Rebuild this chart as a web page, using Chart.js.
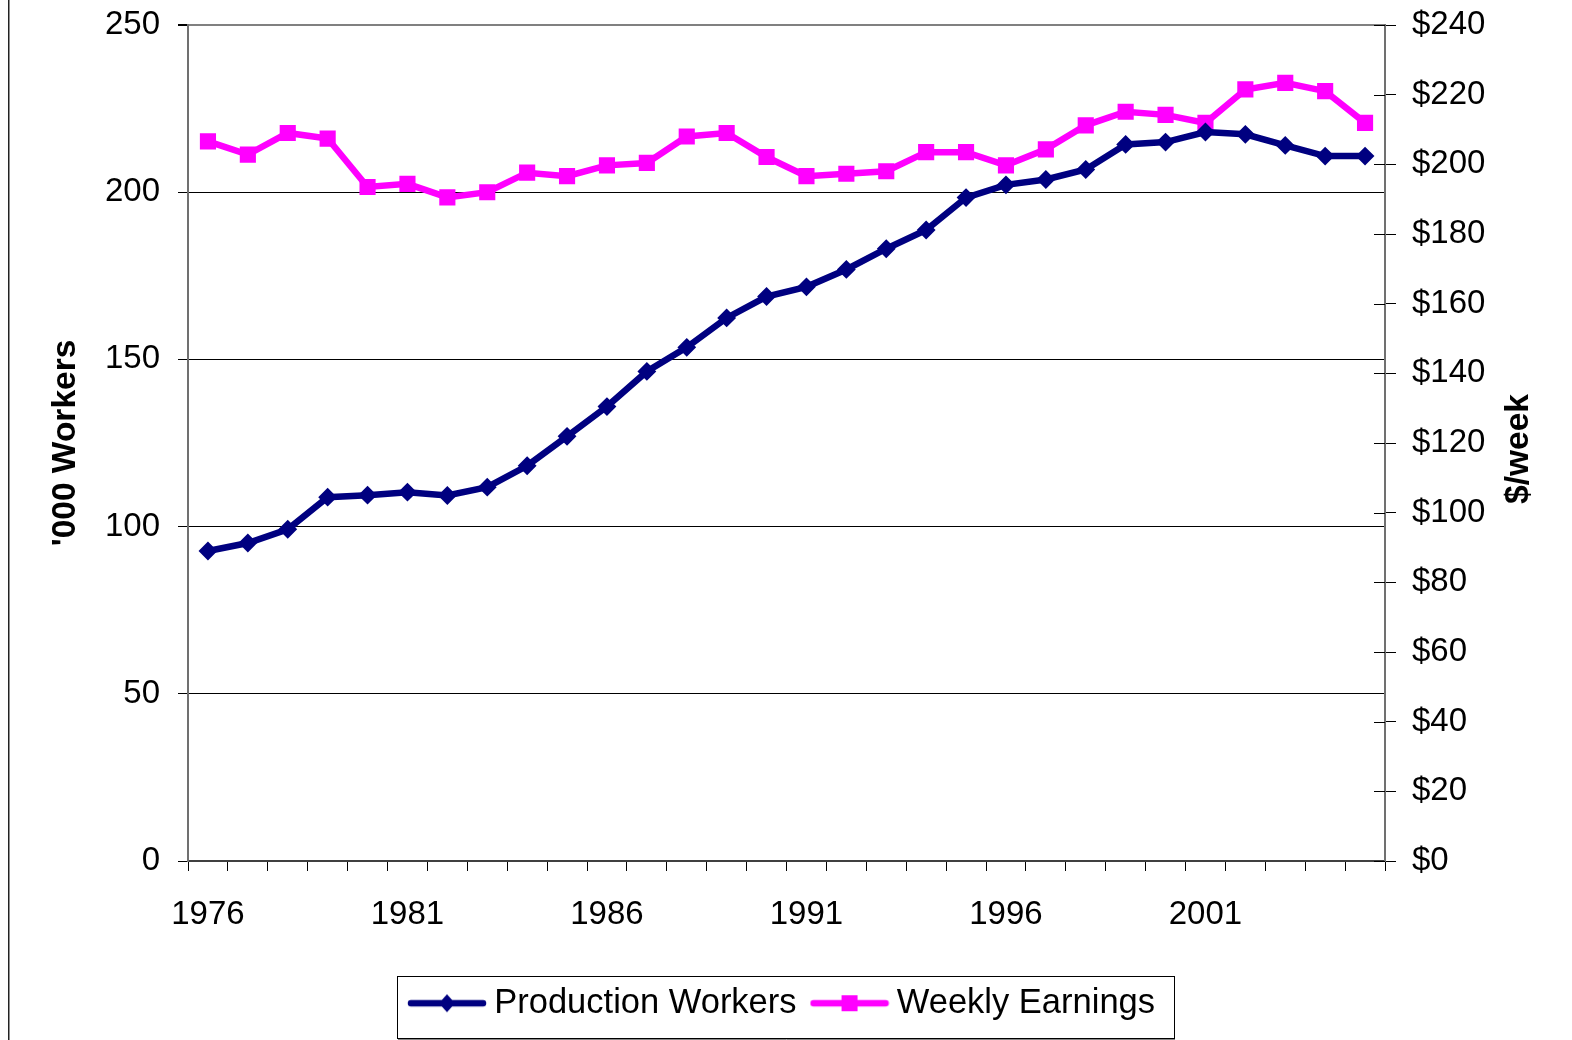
<!DOCTYPE html>
<html>
<head>
<meta charset="utf-8">
<script src="https://cdn.jsdelivr.net/npm/chart.js@4/dist/chart.umd.min.js"></script>
<style>
  html, body { margin: 0; padding: 0; background: #fff; }
  #wrap { position: relative; width: 1572px; height: 1040px; }
  canvas { display: block; }
</style>
</head>
<body>
<div id="wrap"><canvas id="c" width="1572" height="1040"></canvas></div>
<script>
// ---- data ----
const years = ['1976','1977','1978','1979','1980','1981','1982','1983','1984','1985',
               '1986','1987','1988','1989','1990','1991','1992','1993','1994','1995',
               '1996','1997','1998','1999','2000','2001','2002','2003','2004','2005'];
const productionWorkers = [92.7, 95.1, 99.2, 108.8, 109.4, 110.3, 109.3, 111.8, 118.2, 127.0,
                           135.9, 146.4, 153.6, 162.4, 168.8, 171.7, 176.9, 183.1, 188.7, 198.4,
                           202.2, 203.8, 206.8, 214.3, 215.0, 218.0, 217.3, 214.0, 210.8, 210.8];
const weeklyEarnings = [206.6, 202.8, 209.0, 207.4, 193.5, 194.4, 190.5, 192.0, 197.6, 196.6,
                        199.7, 200.4, 208.0, 209.0, 202.1, 196.6, 197.3, 198.0, 203.5, 203.5,
                        199.7, 204.3, 211.2, 215.1, 214.2, 211.9, 221.5, 223.4, 221.0, 211.9];
const seriesNames = ['Production Workers', 'Weekly Earnings'];
const leftTitle = "'000 Workers";
const rightTitle = '$/week';

// ---- styles ----
const NAVY = '#000080';
const MAGENTA = '#FF00FF';
const FONT = '"Liberation Sans", Arial, Helvetica, sans-serif';

function legendSymbol(color, kind) {
  const cv = document.createElement('canvas');
  cv.width = 80; cv.height = 24;
  const g = cv.getContext('2d');
  g.strokeStyle = color; g.lineWidth = 6.5; g.lineCap = 'round';
  g.beginPath(); g.moveTo(4, 12); g.lineTo(76, 12); g.stroke();
  g.fillStyle = color;
  if (kind === 'diamond') {
    g.beginPath(); g.moveTo(40, 3); g.lineTo(48, 12); g.lineTo(40, 21); g.lineTo(32, 12); g.closePath(); g.fill();
  } else {
    g.fillRect(32, 4, 16, 16);
  }
  return cv;
}
const legendImgs = [legendSymbol(NAVY, 'diamond'), legendSymbol(MAGENTA, 'square')];

function noPad(s) { s.paddingTop = 0; s.paddingBottom = 0; s.paddingLeft = 0; s.paddingRight = 0; }

const extras = {
  id: 'extras',
  beforeDraw(chart) {
    const ctx = chart.ctx;
    ctx.save();
    ctx.fillStyle = '#fff';
    ctx.fillRect(0, 0, chart.width, chart.height);
    ctx.strokeStyle = '#222';
    ctx.lineWidth = 1.5;
    ctx.beginPath(); ctx.moveTo(8.75, 0); ctx.lineTo(8.75, chart.height); ctx.stroke();
    ctx.restore();
  },
  afterDraw(chart) {
    const ctx = chart.ctx;
    const y1 = chart.scales.y1;
    const area = chart.chartArea;
    ctx.save();
    // inward half of right-axis cross ticks
    ctx.strokeStyle = '#000';
    ctx.lineWidth = 1;
    y1.ticks.forEach(t => {
      const py = Math.round(y1.getPixelForValue(t.value)) + 0.5;
      ctx.beginPath(); ctx.moveTo(area.right - 11, py); ctx.lineTo(area.right, py); ctx.stroke();
    });
    // right axis title (reads bottom-to-top)
    ctx.fillStyle = '#000';
    ctx.font = 'bold 33.5px ' + FONT;
    ctx.textAlign = 'center';
    ctx.textBaseline = 'middle';
    ctx.translate(y1.left + 134, (area.top + area.bottom) / 2 + 6);
    ctx.rotate(-Math.PI / 2);
    ctx.fillText(rightTitle, 0, 0);
    ctx.restore();
    // legend frame
    const lg = chart.legend;
    if (lg && lg.legendHitBoxes && lg.legendHitBoxes.length) {
      const hb = lg.legendHitBoxes;
      const l = hb[0].left - 20;
      const last = hb[hb.length - 1];
      const r = last.left + last.width + 19;
      const t = hb[0].top - 10;
      const b = hb[0].top + 52;
      ctx.save();
      ctx.strokeStyle = '#000';
      ctx.lineWidth = 1;
      ctx.strokeRect(Math.round(l) + 0.5, Math.round(t) + 0.5, Math.round(r - l), Math.round(b - t));
      ctx.strokeStyle = '#888';
      ctx.beginPath(); ctx.moveTo(Math.round(l) + 1, Math.round(b) + 1.5); ctx.lineTo(Math.round(r) + 1, Math.round(b) + 1.5); ctx.stroke();
      ctx.restore();
    }
  }
};

Chart.defaults.font.family = FONT;
Chart.defaults.color = '#000';

new Chart(document.getElementById('c'), {
  type: 'line',
  data: {
    labels: years,
    datasets: [
      {
        label: seriesNames[0],
        data: productionWorkers,
        yAxisID: 'y',
        borderColor: NAVY,
        backgroundColor: NAVY,
        borderWidth: 6.5,
        pointStyle: 'rectRot',
        pointRadius: 8,
        pointBorderWidth: 2,
        pointBackgroundColor: NAVY,
        pointBorderColor: NAVY,
        tension: 0,
        fill: false
      },
      {
        label: seriesNames[1],
        data: weeklyEarnings,
        yAxisID: 'y1',
        borderColor: MAGENTA,
        backgroundColor: MAGENTA,
        borderWidth: 6.5,
        pointStyle: 'rect',
        pointRadius: 10,
        pointBorderWidth: 2,
        pointBackgroundColor: MAGENTA,
        pointBorderColor: MAGENTA,
        tension: 0,
        fill: false
      }
    ]
  },
  options: {
    responsive: false,
    animation: false,
    devicePixelRatio: 1,
    layout: { padding: { left: 0, right: 0, top: 25, bottom: 9.5 } },
    plugins: {
      tooltip: { enabled: false },
      legend: {
        position: 'bottom',
        labels: {
          font: { size: 34.5 },
          color: '#000',
          usePointStyle: true,
          pointStyleWidth: 60,
          padding: 23,
          generateLabels(chart) {
            const items = Chart.defaults.plugins.legend.labels.generateLabels(chart);
            items.forEach((it, i) => { it.pointStyle = legendImgs[i]; });
            return items;
          }
        }
      }
    },
    scales: {
      x: {
        type: 'category',
        offset: true,
        grid: { offset: true, drawOnChartArea: false, tickLength: 10, tickColor: '#000', color: '#000' },
        border: { color: '#404040', width: 2 },
        ticks: {
          autoSkip: false,
          maxRotation: 0,
          minRotation: 0,
          padding: 24,
          font: { size: 33 },
          color: '#000',
          callback(val, idx) { return idx % 5 === 0 ? this.getLabelForValue(val) : ''; }
        },
        afterFit(s) { s.height = 102; noPad(s); }
      },
      y: {
        position: 'left',
        min: 0, max: 250,
        ticks: { stepSize: 50, padding: 18, font: { size: 33 }, color: '#000' },
        grid: {
          tickLength: 10,
          tickColor: '#000',
          color: ctx => (ctx.tick && ctx.tick.value === 250) ? '#808080' : (ctx.tick && ctx.tick.value === 0 ? 'rgba(0,0,0,0)' : '#000'),
          lineWidth: ctx => (ctx.tick && ctx.tick.value === 250) ? 2 : 1
        },
        border: { color: '#707070', width: 2 },
        title: { display: true, text: leftTitle, font: { size: 33.5, weight: 'bold' }, color: '#000', padding: { top: 46, bottom: 0 } },
        afterFit(s) { s.width = 188; noPad(s); }
      },
      y1: {
        position: 'right',
        min: 0, max: 240,
        ticks: { stepSize: 20, padding: 16, font: { size: 33 }, color: '#000', callback: v => '$' + v },
        grid: { drawOnChartArea: false, tickLength: 11, tickColor: '#000' },
        border: { color: '#707070', width: 2 },
        afterFit(s) { s.width = 187; noPad(s); }
      }
    }
  },
  plugins: [extras]
});
</script>
</body>
</html>
